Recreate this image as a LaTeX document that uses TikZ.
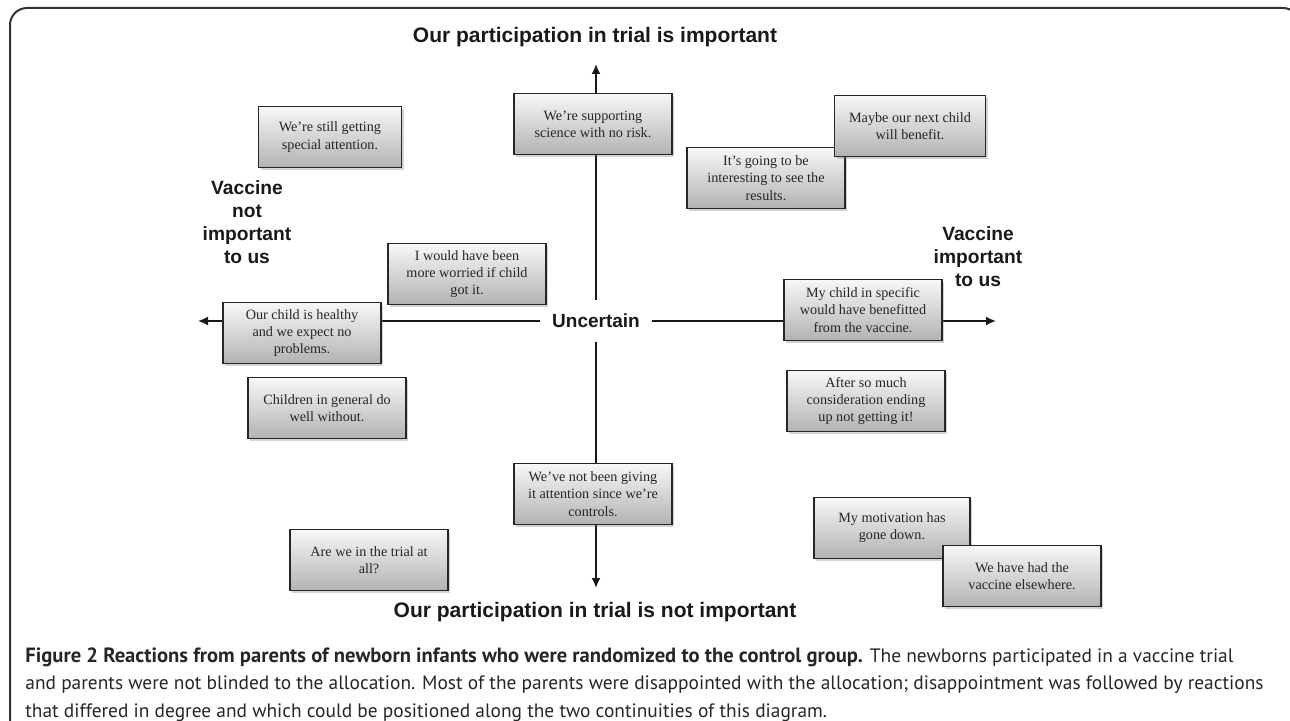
\documentclass[tikz,border=0pt]{standalone}
\usepackage{fontspec}
\setmainfont{Liberation Serif}
\newfontfamily\labelfont{Liberation Sans}
\newfontfamily\captionfont{PT Sans}
\usetikzlibrary{arrows.meta,shadows,backgrounds}

\begin{document}
\begin{tikzpicture}[x=0.5pt,y=-0.5pt,
    box/.style={draw=black!85,line width=0.65pt,top color=black!3,bottom color=black!30,
      minimum width=79pt,minimum height=30.5pt,inner sep=1pt,align=center,text=black!85,
      font=\fontsize{7.1}{8.6}\selectfont,
      drop shadow={opacity=0.35,shadow xshift=1.2pt,shadow yshift=-1.2pt}},
    axislabel/.style={font=\labelfont\bfseries\fontsize{10.5}{12}\selectfont,text=black!90},
    sidelabel/.style={font=\labelfont\bfseries\fontsize{9.6}{11.5}\selectfont,text=black!90,align=center},
    axis/.style={line width=0.85pt,draw=black!90,-{Latex[length=5pt,width=4.5pt]}}]
    \useasboundingbox(0,0)rectangle(1290,721);
    \draw[line width=1pt,black!80,rounded corners=8.5pt](10,735)--(10,8)--(1300,8)--(1300,735);%枠

    % axis labels
    \node[axislabel](imp)at(595,37){Our participation in trial is important};
    \node[axislabel](notimp)at(595,612){Our participation in trial is not important};
    \node[sidelabel](vnot)at(247,222){Vaccine\\not\\important\\to us};
    \node[sidelabel](vimp)at(978,257){Vaccine\\important\\to us};
    \node[font=\labelfont\bfseries\fontsize{9.5}{11}\selectfont,text=black!90,
      minimum width=55.5pt,minimum height=20.5pt,inner sep=0pt](uc)at(596,321){Uncertain};

    % arrow tips
    \coordinate(top)at(596,64);
    \coordinate(bottom)at(596,588);
    \coordinate(left)at(198,321);
    \coordinate(right)at(996,321);

    % reactions
    \node[box,minimum width=71.5pt](still)at(330,137){We’re still getting\\special attention.};
    \node[box](science)at(593,124){We’re supporting\\science with no risk.};
    \node[box](results)at(766,178){It’s going to be\\interesting to see the\\results.};
    \node[box,minimum width=75.5pt](nextchild)at(910,126){Maybe our next child\\will benefit.};
    \node[box](worried)at(467,274){I would have been\\more worried if child\\got it.};
    \node[box](healthy)at(302,333){Our child is healthy\\and we expect no\\problems.};
    \node[box](general)at(327,408){Children in general do\\well without.};
    \node[box](specific)at(863,310){My child in specific\\would have benefitted\\from the vaccine.};
    \node[box](consider)at(866,401){After so much\\consideration ending\\up not getting it!};
    \node[box](controls)at(593,494){We’ve not been giving\\it attention since we’re\\controls.};
    \node[box,minimum width=78pt](motivation)at(892,528){My motivation has\\gone down.};
    \node[box](elsewhere)at(1022,576){We have had the\\vaccine elsewhere.};
    \node[box](trial)at(369,560){Are we in the trial at\\all?};

    \begin{pgfonlayer}{background}
      \draw[axis](uc)--(top);
      \draw[axis](uc)--(bottom);
      \draw[axis](uc)--(left);
      \draw[axis](uc)--(right);
    \end{pgfonlayer}

    % caption
    \node[anchor=north west,align=left,inner sep=0pt,text=black!85,
      font=\captionfont\fontsize{9.7}{13.75}\selectfont](caption)at(25,647)
      {{\fontsize{10.3}{13.75}\selectfont\bfseries Figure 2 Reactions from parents of newborn infants who were randomized to the control group.} The newborns participated in a vaccine trial\\
      and parents were not blinded to the allocation. Most of the parents were disappointed with the allocation; disappointment was followed by reactions\\
      that differed in degree and which could be positioned along the two continuities of this diagram.};
  \end{tikzpicture}
\end{document}
